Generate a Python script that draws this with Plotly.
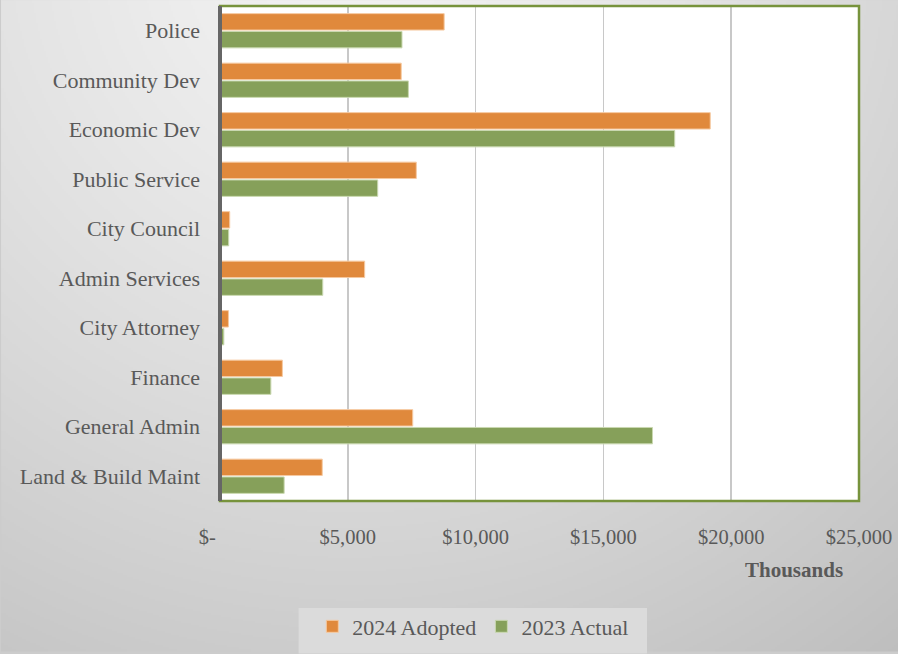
import base64
import struct
import zlib

import numpy as np
import plotly.graph_objects as go

# ---------------- data ----------------
categories = ["Police", "Community Dev", "Economic Dev", "Public Service", "City Council",
              "Admin Services", "City Attorney", "Finance", "General Admin", "Land & Build Maint"]
adopted_2024 = [8770, 7090, 19180, 7680, 380, 5660, 330, 2440, 7540, 4000]
actual_2023 = [7120, 7370, 17790, 6170, 340, 4020, 150, 1990, 16920, 2510]
x_tickvals = [0, 5000, 10000, 15000, 20000, 25000]
x_ticktext = ["$-" + "\u00a0" * 5, "$5,000", "$10,000", "$15,000", "$20,000", "$25,000"]

W, H = 898, 654
ML, MR, MT, MB = 220, 36, 6, 148
PW, PH = W - ML - MR, H - MT - MB


def px_x(p):
    return (p - ML) / PW


def px_y(p):
    return (MT + PH - p) / PH


# ---------------- background gradient image ----------------
def gradient_png(w, h, scale):
    ys, xs = np.mgrid[0:h, 0:w].astype(float)
    xs = xs * scale
    ys = ys * scale
    d = np.sqrt((xs - 350) ** 2 + (ys + 50) ** 2)
    v = 243 - 49 * (d / 850) ** 1.3
    v = np.clip(v, 190, 245).astype(np.uint8)
    raw = b"".join(b"\x00" + v[r].tobytes() for r in range(h))

    def chunk(tag, data):
        c = struct.pack(">I", len(data)) + tag + data
        return c + struct.pack(">I", zlib.crc32(tag + data) & 0xFFFFFFFF)

    png = b"\x89PNG\r\n\x1a\n"
    png += chunk(b"IHDR", struct.pack(">IIBBBBB", w, h, 8, 0, 0, 0, 0))
    png += chunk(b"IDAT", zlib.compress(raw, 9))
    png += chunk(b"IEND", b"")
    return "data:image/png;base64," + base64.b64encode(png).decode()


bg_src = gradient_png(W // 2 + 2, H // 2 + 2, 2)

ORANGE = "#E0893C"
GREEN = "#86A05A"
TXT = "#595959"
FONT = "Liberation Serif"

fig = go.Figure()
fig.add_trace(go.Bar(
    y=categories, x=adopted_2024, orientation="h", name="2024 Adopted",
    marker=dict(color=ORANGE, line=dict(color="#F6C9A0", width=1)),
))
fig.add_trace(go.Bar(
    y=categories, x=actual_2023, orientation="h", name="2023 Actual",
    marker=dict(color=GREEN, line=dict(color="#C9D8B0", width=1)),
))

fig.update_layout(
    width=W, height=H,
    margin=dict(l=ML, r=MR, t=MT, b=MB, pad=0),
    paper_bgcolor="#CCCCCC",
    plot_bgcolor="rgba(0,0,0,0)",
    barmode="group",
    bargap=0.28,
    bargroupgap=0.08,
    font=dict(family=FONT, color=TXT, size=21),
    showlegend=True,
    legend=dict(
        orientation="h", x=px_x(474), xanchor="center",
        y=px_y(654), yanchor="bottom",
        bgcolor="rgba(0,0,0,0)", font=dict(family=FONT, size=22, color=TXT),
        traceorder="normal", itemwidth=30,
    ),
    xaxis=dict(
        range=[0, 25000], tickvals=x_tickvals, ticktext=x_ticktext,
        showgrid=True, gridcolor="#C8C8C8", gridwidth=1.5,
        zeroline=False, showline=False, ticks="",
        ticklabelstandoff=21, tickfont=dict(size=20.5, color=TXT),
        fixedrange=True,
    ),
    yaxis=dict(
        autorange="reversed", showgrid=False, zeroline=False, showline=False,
        ticks="", ticklabelstandoff=19, tickfont=dict(size=22, color=TXT),
        fixedrange=True,
    ),
    images=[dict(
        source=bg_src, xref="paper", yref="paper",
        x=-ML / PW, y=1 + MT / PH, sizex=(W + 4) / PW, sizey=(H + 4) / PH,
        xanchor="left", yanchor="top", sizing="stretch", layer="below",
    )],
    shapes=[
        dict(type="rect", xref="paper", yref="paper", x0=0, x1=1, y0=0, y1=1,
             fillcolor="white", line=dict(width=0), layer="below"),
        dict(type="rect", xref="paper", yref="paper", x0=px_x(299), x1=px_x(649),
             y0=px_y(660), y1=px_y(614),
             fillcolor="#DBDBDB", line=dict(width=0), layer="below"),
        dict(type="rect", xref="paper", yref="paper", x0=0, x1=1, y0=0, y1=1,
             fillcolor="rgba(0,0,0,0)", line=dict(color="#77933C", width=2.5), layer="above"),
        dict(type="line", xref="paper", yref="paper", x0=0, x1=0, y0=0, y1=1,
             line=dict(color="#666666", width=4), layer="above"),
    ],
    annotations=[dict(
        text="<b>Thousands</b>", xref="paper", yref="paper",
        x=px_x(797), y=px_y(576), xanchor="center", yanchor="middle",
        showarrow=False, font=dict(family=FONT, size=21, color=TXT),
    )],
)

fig.write_html(
    "out.html",
    config={"displayModeBar": False, "staticPlot": True},
    post_script="document.body.style.margin='0';document.body.style.padding='0';"
                "document.body.style.overflow='hidden';"
                "document.body.style.background='#C6C6C6';",
)
